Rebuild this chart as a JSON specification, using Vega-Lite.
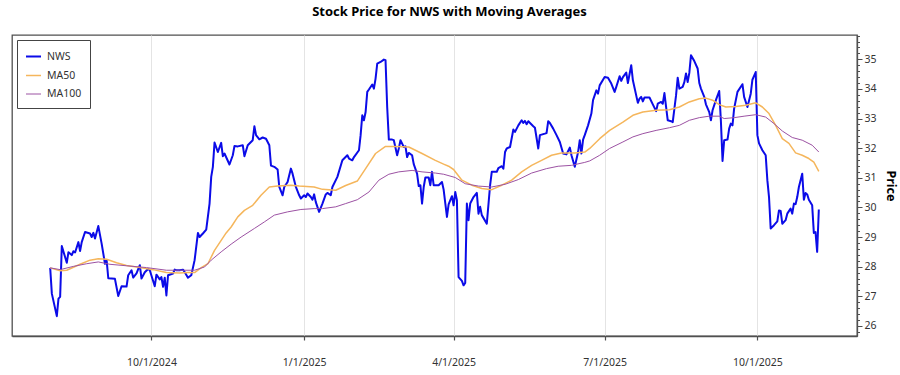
{
"$schema": "https://vega.github.io/schema/vega-lite/v6.json",
"width": 845, "height": 301,
"autosize": {"type": "none"},
"padding": {"left": 12, "top": 35, "right": 43, "bottom": 39},
"background": "white",
"title": {"text": "Stock Price for NWS with Moving Averages", "fontSize": 13, "font": "Noto Sans", "fontWeight": "bold", "color": "#000000", "anchor": "middle", "dx": 15, "offset": 12},
"config": {"view": {"stroke": "#505050", "strokeWidth": 1.3}, "font": "Noto Sans"},
"data": {"format": {"parse": {"d": "utc:'%Y-%m-%d'"}}, "values": [
{"d":"2024-08-01","s":"NWS","p":27.96},{"d":"2024-08-02","s":"NWS","p":27.09},{"d":"2024-08-05","s":"NWS","p":26.33},{"d":"2024-08-06","s":"NWS","p":26.92},{"d":"2024-08-07","s":"NWS","p":26.98},{"d":"2024-08-08","s":"NWS","p":28.70},{"d":"2024-08-11","s":"NWS","p":28.13},{"d":"2024-08-12","s":"NWS","p":28.49},{"d":"2024-08-14","s":"NWS","p":28.39},{"d":"2024-08-15","s":"NWS","p":28.52},{"d":"2024-08-16","s":"NWS","p":28.48},{"d":"2024-08-18","s":"NWS","p":28.83},{"d":"2024-08-19","s":"NWS","p":28.53},{"d":"2024-08-20","s":"NWS","p":28.83},{"d":"2024-08-22","s":"NWS","p":29.17},{"d":"2024-08-25","s":"NWS","p":29.12},{"d":"2024-08-26","s":"NWS","p":29.00},{"d":"2024-08-27","s":"NWS","p":29.14},{"d":"2024-08-28","s":"NWS","p":28.95},{"d":"2024-08-30","s":"NWS","p":29.37},{"d":"2024-09-01","s":"NWS","p":28.78},{"d":"2024-09-03","s":"NWS","p":28.10},{"d":"2024-09-04","s":"NWS","p":28.22},{"d":"2024-09-05","s":"NWS","p":27.61},{"d":"2024-09-07","s":"NWS","p":27.60},{"d":"2024-09-09","s":"NWS","p":27.59},{"d":"2024-09-11","s":"NWS","p":27.01},{"d":"2024-09-13","s":"NWS","p":27.34},{"d":"2024-09-16","s":"NWS","p":27.33},{"d":"2024-09-17","s":"NWS","p":27.71},{"d":"2024-09-19","s":"NWS","p":27.88},{"d":"2024-09-20","s":"NWS","p":27.63},{"d":"2024-09-22","s":"NWS","p":27.77},{"d":"2024-09-24","s":"NWS","p":28.05},{"d":"2024-09-25","s":"NWS","p":27.60},{"d":"2024-09-27","s":"NWS","p":27.81},{"d":"2024-09-29","s":"NWS","p":27.92},{"d":"2024-09-30","s":"NWS","p":27.88},{"d":"2024-10-03","s":"NWS","p":27.34},{"d":"2024-10-04","s":"NWS","p":27.73},{"d":"2024-10-06","s":"NWS","p":27.57},{"d":"2024-10-07","s":"NWS","p":27.65},{"d":"2024-10-08","s":"NWS","p":27.32},{"d":"2024-10-09","s":"NWS","p":27.63},{"d":"2024-10-10","s":"NWS","p":27.03},{"d":"2024-10-11","s":"NWS","p":27.71},{"d":"2024-10-14","s":"NWS","p":27.77},{"d":"2024-10-15","s":"NWS","p":27.90},{"d":"2024-10-16","s":"NWS","p":27.88},{"d":"2024-10-18","s":"NWS","p":27.88},{"d":"2024-10-20","s":"NWS","p":27.90},{"d":"2024-10-21","s":"NWS","p":27.82},{"d":"2024-10-23","s":"NWS","p":27.63},{"d":"2024-10-25","s":"NWS","p":27.71},{"d":"2024-10-27","s":"NWS","p":28.22},{"d":"2024-10-29","s":"NWS","p":29.14},{"d":"2024-10-30","s":"NWS","p":29.00},{"d":"2024-11-01","s":"NWS","p":29.12},{"d":"2024-11-03","s":"NWS","p":29.25},{"d":"2024-11-05","s":"NWS","p":30.13},{"d":"2024-11-06","s":"NWS","p":31.03},{"d":"2024-11-07","s":"NWS","p":31.37},{"d":"2024-11-08","s":"NWS","p":32.19},{"d":"2024-11-10","s":"NWS","p":31.87},{"d":"2024-11-12","s":"NWS","p":32.18},{"d":"2024-11-13","s":"NWS","p":31.73},{"d":"2024-11-14","s":"NWS","p":31.82},{"d":"2024-11-17","s":"NWS","p":31.45},{"d":"2024-11-19","s":"NWS","p":31.76},{"d":"2024-11-20","s":"NWS","p":32.07},{"d":"2024-11-22","s":"NWS","p":32.06},{"d":"2024-11-25","s":"NWS","p":32.10},{"d":"2024-11-26","s":"NWS","p":31.73},{"d":"2024-11-28","s":"NWS","p":32.10},{"d":"2024-12-01","s":"NWS","p":32.27},{"d":"2024-12-02","s":"NWS","p":32.74},{"d":"2024-12-03","s":"NWS","p":32.44},{"d":"2024-12-05","s":"NWS","p":32.30},{"d":"2024-12-07","s":"NWS","p":32.36},{"d":"2024-12-09","s":"NWS","p":32.32},{"d":"2024-12-11","s":"NWS","p":32.10},{"d":"2024-12-12","s":"NWS","p":31.41},{"d":"2024-12-14","s":"NWS","p":31.37},{"d":"2024-12-16","s":"NWS","p":31.28},{"d":"2024-12-17","s":"NWS","p":30.69},{"d":"2024-12-19","s":"NWS","p":30.41},{"d":"2024-12-20","s":"NWS","p":30.69},{"d":"2024-12-22","s":"NWS","p":30.86},{"d":"2024-12-24","s":"NWS","p":31.31},{"d":"2024-12-25","s":"NWS","p":31.14},{"d":"2024-12-27","s":"NWS","p":30.69},{"d":"2024-12-29","s":"NWS","p":30.41},{"d":"2024-12-30","s":"NWS","p":30.30},
{"d":"2025-01-01","s":"NWS","p":30.41},{"d":"2025-01-02","s":"NWS","p":30.35},{"d":"2025-01-03","s":"NWS","p":30.47},{"d":"2025-01-05","s":"NWS","p":30.35},{"d":"2025-01-06","s":"NWS","p":30.26},{"d":"2025-01-07","s":"NWS","p":30.44},{"d":"2025-01-08","s":"NWS","p":30.18},{"d":"2025-01-10","s":"NWS","p":29.85},{"d":"2025-01-12","s":"NWS","p":30.13},{"d":"2025-01-14","s":"NWS","p":30.44},{"d":"2025-01-15","s":"NWS","p":30.49},{"d":"2025-01-17","s":"NWS","p":30.41},{"d":"2025-01-18","s":"NWS","p":30.69},{"d":"2025-01-21","s":"NWS","p":31.03},{"d":"2025-01-24","s":"NWS","p":31.59},{"d":"2025-01-27","s":"NWS","p":31.76},{"d":"2025-01-28","s":"NWS","p":31.65},{"d":"2025-01-30","s":"NWS","p":31.59},{"d":"2025-01-31","s":"NWS","p":31.70},{"d":"2025-02-03","s":"NWS","p":31.93},{"d":"2025-02-04","s":"NWS","p":32.44},{"d":"2025-02-05","s":"NWS","p":33.11},{"d":"2025-02-06","s":"NWS","p":32.94},{"d":"2025-02-07","s":"NWS","p":33.22},{"d":"2025-02-08","s":"NWS","p":33.90},{"d":"2025-02-09","s":"NWS","p":33.98},{"d":"2025-02-11","s":"NWS","p":34.15},{"d":"2025-02-12","s":"NWS","p":34.01},{"d":"2025-02-13","s":"NWS","p":34.35},{"d":"2025-02-14","s":"NWS","p":34.85},{"d":"2025-02-16","s":"NWS","p":34.91},{"d":"2025-02-18","s":"NWS","p":34.99},{"d":"2025-02-19","s":"NWS","p":34.97},{"d":"2025-02-20","s":"NWS","p":33.39},{"d":"2025-02-21","s":"NWS","p":32.29},{"d":"2025-02-23","s":"NWS","p":32.29},{"d":"2025-02-24","s":"NWS","p":32.27},{"d":"2025-02-26","s":"NWS","p":31.76},{"d":"2025-02-27","s":"NWS","p":31.99},{"d":"2025-02-28","s":"NWS","p":32.27},{"d":"2025-03-02","s":"NWS","p":32.04},{"d":"2025-03-03","s":"NWS","p":32.06},{"d":"2025-03-04","s":"NWS","p":31.70},{"d":"2025-03-05","s":"NWS","p":31.84},{"d":"2025-03-07","s":"NWS","p":31.76},{"d":"2025-03-08","s":"NWS","p":31.46},{"d":"2025-03-10","s":"NWS","p":31.14},{"d":"2025-03-11","s":"NWS","p":30.72},{"d":"2025-03-12","s":"NWS","p":30.75},{"d":"2025-03-13","s":"NWS","p":30.13},{"d":"2025-03-14","s":"NWS","p":30.69},{"d":"2025-03-15","s":"NWS","p":31.01},{"d":"2025-03-17","s":"NWS","p":31.01},{"d":"2025-03-18","s":"NWS","p":30.75},{"d":"2025-03-19","s":"NWS","p":31.20},{"d":"2025-03-20","s":"NWS","p":30.75},{"d":"2025-03-23","s":"NWS","p":30.75},{"d":"2025-03-25","s":"NWS","p":30.86},{"d":"2025-03-26","s":"NWS","p":30.60},{"d":"2025-03-28","s":"NWS","p":29.68},{"d":"2025-03-29","s":"NWS","p":30.10},{"d":"2025-03-31","s":"NWS","p":30.38},{"d":"2025-04-01","s":"NWS","p":30.07},{"d":"2025-04-02","s":"NWS","p":30.52},{"d":"2025-04-03","s":"NWS","p":30.24},{"d":"2025-04-04","s":"NWS","p":27.65},{"d":"2025-04-06","s":"NWS","p":27.52},{"d":"2025-04-07","s":"NWS","p":27.37},{"d":"2025-04-08","s":"NWS","p":27.45},{"d":"2025-04-09","s":"NWS","p":30.13},{"d":"2025-04-10","s":"NWS","p":29.57},{"d":"2025-04-11","s":"NWS","p":30.13},{"d":"2025-04-13","s":"NWS","p":30.35},{"d":"2025-04-15","s":"NWS","p":30.49},{"d":"2025-04-16","s":"NWS","p":29.79},{"d":"2025-04-17","s":"NWS","p":30.02},{"d":"2025-04-18","s":"NWS","p":29.74},{"d":"2025-04-21","s":"NWS","p":29.45},{"d":"2025-04-23","s":"NWS","p":30.75},{"d":"2025-04-24","s":"NWS","p":31.20},{"d":"2025-04-27","s":"NWS","p":31.20},{"d":"2025-04-28","s":"NWS","p":31.33},{"d":"2025-04-30","s":"NWS","p":31.39},{"d":"2025-05-01","s":"NWS","p":31.31},{"d":"2025-05-02","s":"NWS","p":31.87},{"d":"2025-05-03","s":"NWS","p":31.99},{"d":"2025-05-05","s":"NWS","p":32.04},{"d":"2025-05-07","s":"NWS","p":32.63},{"d":"2025-05-08","s":"NWS","p":32.55},{"d":"2025-05-10","s":"NWS","p":32.77},{"d":"2025-05-12","s":"NWS","p":32.94},{"d":"2025-05-13","s":"NWS","p":32.85},{"d":"2025-05-14","s":"NWS","p":32.92},{"d":"2025-05-15","s":"NWS","p":32.81},{"d":"2025-05-16","s":"NWS","p":32.91},{"d":"2025-05-19","s":"NWS","p":32.74},{"d":"2025-05-20","s":"NWS","p":32.69},{"d":"2025-05-22","s":"NWS","p":31.99},{"d":"2025-05-23","s":"NWS","p":32.44},{"d":"2025-05-26","s":"NWS","p":32.49},{"d":"2025-05-27","s":"NWS","p":32.51},{"d":"2025-05-28","s":"NWS","p":32.91},{"d":"2025-05-29","s":"NWS","p":32.85},{"d":"2025-05-31","s":"NWS","p":32.66},{"d":"2025-06-02","s":"NWS","p":32.44},{"d":"2025-06-04","s":"NWS","p":32.21},{"d":"2025-06-06","s":"NWS","p":31.82},{"d":"2025-06-08","s":"NWS","p":31.79},{"d":"2025-06-10","s":"NWS","p":32.02},{"d":"2025-06-11","s":"NWS","p":31.76},{"d":"2025-06-13","s":"NWS","p":31.37},{"d":"2025-06-15","s":"NWS","p":31.87},{"d":"2025-06-16","s":"NWS","p":32.27},{"d":"2025-06-17","s":"NWS","p":31.82},{"d":"2025-06-18","s":"NWS","p":32.29},{"d":"2025-06-19","s":"NWS","p":32.44},{"d":"2025-06-21","s":"NWS","p":32.77},{"d":"2025-06-23","s":"NWS","p":33.17},{"d":"2025-06-24","s":"NWS","p":33.62},{"d":"2025-06-26","s":"NWS","p":33.95},{"d":"2025-06-27","s":"NWS","p":33.84},{"d":"2025-06-28","s":"NWS","p":34.12},{"d":"2025-07-01","s":"NWS","p":34.40},{"d":"2025-07-03","s":"NWS","p":34.38},{"d":"2025-07-05","s":"NWS","p":34.18},{"d":"2025-07-07","s":"NWS","p":33.90},{"d":"2025-07-08","s":"NWS","p":34.07},{"d":"2025-07-10","s":"NWS","p":34.43},{"d":"2025-07-11","s":"NWS","p":34.27},{"d":"2025-07-12","s":"NWS","p":34.40},{"d":"2025-07-14","s":"NWS","p":34.55},{"d":"2025-07-15","s":"NWS","p":34.20},{"d":"2025-07-17","s":"NWS","p":34.80},{"d":"2025-07-18","s":"NWS","p":34.29},{"d":"2025-07-21","s":"NWS","p":33.53},{"d":"2025-07-22","s":"NWS","p":33.67},{"d":"2025-07-23","s":"NWS","p":33.73},{"d":"2025-07-24","s":"NWS","p":33.58},{"d":"2025-07-25","s":"NWS","p":33.71},{"d":"2025-07-28","s":"NWS","p":33.71},{"d":"2025-07-30","s":"NWS","p":33.48},{"d":"2025-08-01","s":"NWS","p":33.25},{"d":"2025-08-02","s":"NWS","p":33.50},{"d":"2025-08-04","s":"NWS","p":33.56},{"d":"2025-08-05","s":"NWS","p":33.50},{"d":"2025-08-06","s":"NWS","p":33.86},{"d":"2025-08-07","s":"NWS","p":33.39},{"d":"2025-08-08","s":"NWS","p":32.94},{"d":"2025-08-10","s":"NWS","p":32.91},{"d":"2025-08-11","s":"NWS","p":32.88},{"d":"2025-08-13","s":"NWS","p":33.78},{"d":"2025-08-14","s":"NWS","p":34.38},{"d":"2025-08-15","s":"NWS","p":34.01},{"d":"2025-08-17","s":"NWS","p":34.07},{"d":"2025-08-18","s":"NWS","p":34.23},{"d":"2025-08-19","s":"NWS","p":34.52},{"d":"2025-08-20","s":"NWS","p":34.23},{"d":"2025-08-21","s":"NWS","p":34.54},{"d":"2025-08-22","s":"NWS","p":35.14},{"d":"2025-08-24","s":"NWS","p":34.94},{"d":"2025-08-26","s":"NWS","p":34.69},{"d":"2025-08-27","s":"NWS","p":34.20},{"d":"2025-08-28","s":"NWS","p":34.01},{"d":"2025-08-30","s":"NWS","p":33.73},{"d":"2025-08-31","s":"NWS","p":33.48},{"d":"2025-09-02","s":"NWS","p":33.22},{"d":"2025-09-03","s":"NWS","p":32.94},{"d":"2025-09-04","s":"NWS","p":33.28},{"d":"2025-09-06","s":"NWS","p":33.62},{"d":"2025-09-08","s":"NWS","p":33.93},{"d":"2025-09-09","s":"NWS","p":32.94},{"d":"2025-09-10","s":"NWS","p":31.57},{"d":"2025-09-11","s":"NWS","p":32.27},{"d":"2025-09-13","s":"NWS","p":32.29},{"d":"2025-09-14","s":"NWS","p":32.66},{"d":"2025-09-15","s":"NWS","p":32.83},{"d":"2025-09-16","s":"NWS","p":32.77},{"d":"2025-09-17","s":"NWS","p":33.34},{"d":"2025-09-19","s":"NWS","p":33.90},{"d":"2025-09-22","s":"NWS","p":34.16},{"d":"2025-09-23","s":"NWS","p":33.73},{"d":"2025-09-25","s":"NWS","p":33.39},{"d":"2025-09-27","s":"NWS","p":33.84},{"d":"2025-09-28","s":"NWS","p":34.31},{"d":"2025-09-30","s":"NWS","p":34.57},{"d":"2025-10-01","s":"NWS","p":32.44},{"d":"2025-10-02","s":"NWS","p":32.16},{"d":"2025-10-04","s":"NWS","p":31.93},{"d":"2025-10-06","s":"NWS","p":31.76},{"d":"2025-10-07","s":"NWS","p":30.92},{"d":"2025-10-08","s":"NWS","p":30.35},{"d":"2025-10-09","s":"NWS","p":29.29},{"d":"2025-10-11","s":"NWS","p":29.40},{"d":"2025-10-13","s":"NWS","p":29.53},{"d":"2025-10-14","s":"NWS","p":29.90},{"d":"2025-10-15","s":"NWS","p":29.88},{"d":"2025-10-16","s":"NWS","p":29.45},{"d":"2025-10-18","s":"NWS","p":29.57},{"d":"2025-10-19","s":"NWS","p":29.79},{"d":"2025-10-21","s":"NWS","p":29.96},{"d":"2025-10-22","s":"NWS","p":29.79},{"d":"2025-10-23","s":"NWS","p":30.13},{"d":"2025-10-24","s":"NWS","p":30.11},{"d":"2025-10-25","s":"NWS","p":30.35},{"d":"2025-10-26","s":"NWS","p":30.69},{"d":"2025-10-28","s":"NWS","p":31.14},{"d":"2025-10-29","s":"NWS","p":30.26},{"d":"2025-10-30","s":"NWS","p":30.49},{"d":"2025-10-31","s":"NWS","p":30.44},{"d":"2025-11-01","s":"NWS","p":30.26},{"d":"2025-11-03","s":"NWS","p":30.07},{"d":"2025-11-04","s":"NWS","p":29.14},{"d":"2025-11-05","s":"NWS","p":29.17},{"d":"2025-11-06","s":"NWS","p":28.50},{"d":"2025-11-07","s":"NWS","p":29.93},
{"d":"2024-08-01","s":"MA50","p":27.96},{"d":"2024-08-07","s":"MA50","p":27.86},{"d":"2024-08-11","s":"MA50","p":27.88},{"d":"2024-08-19","s":"MA50","p":28.08},{"d":"2024-08-25","s":"MA50","p":28.22},{"d":"2024-08-30","s":"MA50","p":28.27},{"d":"2024-09-04","s":"MA50","p":28.25},{"d":"2024-09-10","s":"MA50","p":28.13},{"d":"2024-09-16","s":"MA50","p":28.04},{"d":"2024-09-24","s":"MA50","p":27.97},{"d":"2024-10-02","s":"MA50","p":27.90},{"d":"2024-10-10","s":"MA50","p":27.80},{"d":"2024-10-18","s":"MA50","p":27.79},{"d":"2024-10-23","s":"MA50","p":27.80},{"d":"2024-10-27","s":"MA50","p":27.80},{"d":"2024-10-31","s":"MA50","p":27.97},{"d":"2024-11-04","s":"MA50","p":28.10},{"d":"2024-11-08","s":"MA50","p":28.55},{"d":"2024-11-12","s":"MA50","p":28.89},{"d":"2024-11-15","s":"MA50","p":29.14},{"d":"2024-11-18","s":"MA50","p":29.34},{"d":"2024-11-22","s":"MA50","p":29.68},{"d":"2024-11-26","s":"MA50","p":29.90},{"d":"2024-12-01","s":"MA50","p":30.07},{"d":"2024-12-06","s":"MA50","p":30.41},{"d":"2024-12-11","s":"MA50","p":30.69},{"d":"2024-12-16","s":"MA50","p":30.72},{"d":"2024-12-24","s":"MA50","p":30.75},{"d":"2024-12-29","s":"MA50","p":30.72},{"d":"2025-01-07","s":"MA50","p":30.69},{"d":"2025-01-12","s":"MA50","p":30.61},{"d":"2025-01-20","s":"MA50","p":30.58},{"d":"2025-01-26","s":"MA50","p":30.74},{"d":"2025-02-02","s":"MA50","p":30.89},{"d":"2025-02-07","s":"MA50","p":31.31},{"d":"2025-02-13","s":"MA50","p":31.82},{"d":"2025-02-19","s":"MA50","p":32.06},{"d":"2025-02-25","s":"MA50","p":32.06},{"d":"2025-03-05","s":"MA50","p":32.04},{"d":"2025-03-13","s":"MA50","p":31.82},{"d":"2025-03-21","s":"MA50","p":31.59},{"d":"2025-03-26","s":"MA50","p":31.46},{"d":"2025-03-29","s":"MA50","p":31.39},{"d":"2025-04-01","s":"MA50","p":31.28},{"d":"2025-04-06","s":"MA50","p":30.92},{"d":"2025-04-12","s":"MA50","p":30.75},{"d":"2025-04-18","s":"MA50","p":30.64},{"d":"2025-04-24","s":"MA50","p":30.60},{"d":"2025-04-30","s":"MA50","p":30.75},{"d":"2025-05-06","s":"MA50","p":30.92},{"d":"2025-05-12","s":"MA50","p":31.20},{"d":"2025-05-18","s":"MA50","p":31.42},{"d":"2025-05-24","s":"MA50","p":31.59},{"d":"2025-05-30","s":"MA50","p":31.76},{"d":"2025-06-05","s":"MA50","p":31.84},{"d":"2025-06-13","s":"MA50","p":31.84},{"d":"2025-06-19","s":"MA50","p":31.87},{"d":"2025-06-22","s":"MA50","p":31.99},{"d":"2025-06-28","s":"MA50","p":32.32},{"d":"2025-07-04","s":"MA50","p":32.60},{"d":"2025-07-12","s":"MA50","p":32.88},{"d":"2025-07-18","s":"MA50","p":33.11},{"d":"2025-07-24","s":"MA50","p":33.22},{"d":"2025-08-01","s":"MA50","p":33.28},{"d":"2025-08-09","s":"MA50","p":33.30},{"d":"2025-08-15","s":"MA50","p":33.39},{"d":"2025-08-21","s":"MA50","p":33.56},{"d":"2025-08-27","s":"MA50","p":33.67},{"d":"2025-08-31","s":"MA50","p":33.69},{"d":"2025-09-04","s":"MA50","p":33.62},{"d":"2025-09-08","s":"MA50","p":33.47},{"d":"2025-09-12","s":"MA50","p":33.39},{"d":"2025-09-18","s":"MA50","p":33.41},{"d":"2025-09-24","s":"MA50","p":33.45},{"d":"2025-09-30","s":"MA50","p":33.53},{"d":"2025-10-04","s":"MA50","p":33.39},{"d":"2025-10-08","s":"MA50","p":33.17},{"d":"2025-10-12","s":"MA50","p":32.77},{"d":"2025-10-16","s":"MA50","p":32.32},{"d":"2025-10-20","s":"MA50","p":32.16},{"d":"2025-10-24","s":"MA50","p":31.84},{"d":"2025-10-28","s":"MA50","p":31.76},{"d":"2025-11-01","s":"MA50","p":31.65},{"d":"2025-11-04","s":"MA50","p":31.53},{"d":"2025-11-07","s":"MA50","p":31.22},
{"d":"2024-08-01","s":"MA100","p":27.96},{"d":"2024-08-07","s":"MA100","p":27.90},{"d":"2024-08-15","s":"MA100","p":28.01},{"d":"2024-08-23","s":"MA100","p":28.10},{"d":"2024-08-30","s":"MA100","p":28.16},{"d":"2024-09-06","s":"MA100","p":28.08},{"d":"2024-09-16","s":"MA100","p":28.03},{"d":"2024-09-28","s":"MA100","p":27.97},{"d":"2024-10-10","s":"MA100","p":27.88},{"d":"2024-10-18","s":"MA100","p":27.88},{"d":"2024-10-27","s":"MA100","p":27.88},{"d":"2024-11-02","s":"MA100","p":27.99},{"d":"2024-11-06","s":"MA100","p":28.22},{"d":"2024-11-12","s":"MA100","p":28.50},{"d":"2024-11-18","s":"MA100","p":28.76},{"d":"2024-11-24","s":"MA100","p":29.00},{"d":"2024-12-02","s":"MA100","p":29.29},{"d":"2024-12-08","s":"MA100","p":29.51},{"d":"2024-12-14","s":"MA100","p":29.74},{"d":"2024-12-22","s":"MA100","p":29.85},{"d":"2024-12-30","s":"MA100","p":29.93},{"d":"2025-01-07","s":"MA100","p":29.96},{"d":"2025-01-12","s":"MA100","p":29.96},{"d":"2025-01-20","s":"MA100","p":30.02},{"d":"2025-01-26","s":"MA100","p":30.13},{"d":"2025-02-02","s":"MA100","p":30.26},{"d":"2025-02-09","s":"MA100","p":30.52},{"d":"2025-02-15","s":"MA100","p":30.92},{"d":"2025-02-21","s":"MA100","p":31.12},{"d":"2025-02-27","s":"MA100","p":31.20},{"d":"2025-03-07","s":"MA100","p":31.25},{"d":"2025-03-13","s":"MA100","p":31.20},{"d":"2025-03-21","s":"MA100","p":31.16},{"d":"2025-03-26","s":"MA100","p":31.12},{"d":"2025-04-02","s":"MA100","p":31.01},{"d":"2025-04-08","s":"MA100","p":30.80},{"d":"2025-04-16","s":"MA100","p":30.72},{"d":"2025-04-24","s":"MA100","p":30.69},{"d":"2025-05-02","s":"MA100","p":30.78},{"d":"2025-05-10","s":"MA100","p":30.94},{"d":"2025-05-18","s":"MA100","p":31.16},{"d":"2025-05-27","s":"MA100","p":31.31},{"d":"2025-06-03","s":"MA100","p":31.39},{"d":"2025-06-11","s":"MA100","p":31.42},{"d":"2025-06-19","s":"MA100","p":31.52},{"d":"2025-06-22","s":"MA100","p":31.57},{"d":"2025-06-28","s":"MA100","p":31.76},{"d":"2025-07-04","s":"MA100","p":31.99},{"d":"2025-07-12","s":"MA100","p":32.21},{"d":"2025-07-18","s":"MA100","p":32.38},{"d":"2025-07-24","s":"MA100","p":32.49},{"d":"2025-08-01","s":"MA100","p":32.60},{"d":"2025-08-09","s":"MA100","p":32.69},{"d":"2025-08-15","s":"MA100","p":32.77},{"d":"2025-08-21","s":"MA100","p":32.94},{"d":"2025-08-27","s":"MA100","p":33.03},{"d":"2025-09-02","s":"MA100","p":33.08},{"d":"2025-09-08","s":"MA100","p":33.08},{"d":"2025-09-11","s":"MA100","p":33.00},{"d":"2025-09-17","s":"MA100","p":33.03},{"d":"2025-09-23","s":"MA100","p":33.08},{"d":"2025-09-30","s":"MA100","p":33.13},{"d":"2025-10-06","s":"MA100","p":33.05},{"d":"2025-10-11","s":"MA100","p":32.83},{"d":"2025-10-16","s":"MA100","p":32.58},{"d":"2025-10-22","s":"MA100","p":32.36},{"d":"2025-10-28","s":"MA100","p":32.27},{"d":"2025-11-03","s":"MA100","p":32.10},{"d":"2025-11-07","s":"MA100","p":31.87}
]},
"mark": {"type": "line", "interpolate": "linear", "strokeJoin": "round"},
"encoding": {
 "x": {"field": "d", "type": "temporal",
  "scale": {"type": "utc", "domain": [{"year": 2024, "month": 7, "date": 9, "utc": true}, {"year": 2025, "month": 11, "date": 30, "utc": true}]},
  "axis": {"title": null,
   "values": [{"year": 2024, "month": 10, "date": 1, "utc": true}, {"year": 2025, "month": 1, "date": 1, "utc": true}, {"year": 2025, "month": 4, "date": 1, "utc": true}, {"year": 2025, "month": 7, "date": 1, "utc": true}, {"year": 2025, "month": 10, "date": 1, "utc": true}],
   "labelExpr": "(utcmonth(datum.value)+1) + '/' + utcdate(datum.value) + '/' + utcyear(datum.value)",
   "grid": true, "gridColor": "#e4e4e4", "gridWidth": 1,
   "domainColor": "#505050", "domainWidth": 1.3, "tickColor": "#505050", "tickSize": 4, "tickWidth": 1.2,
   "labelPadding": 17, "labelFontSize": 10.5, "labelColor": "#333333", "labelFont": "Noto Sans"}},
 "y": {"field": "p", "type": "quantitative",
  "scale": {"domain": [25.66, 35.82], "nice": false, "zero": false},
  "axis": {"orient": "right", "title": "Price", "titleFontWeight": "bold", "titleFontSize": 12.5, "titleColor": "#000000", "titleFont": "Noto Sans", "titlePadding": 7,
   "values": [25.8,26,26.2,26.4,26.6,26.8,27,27.2,27.4,27.6,27.8,28,28.2,28.4,28.6,28.8,29,29.2,29.4,29.6,29.8,30,30.2,30.4,30.6,30.8,31,31.2,31.4,31.6,31.8,32,32.2,32.4,32.6,32.8,33,33.2,33.4,33.6,33.8,34,34.2,34.4,34.6,34.8,35,35.2,35.4,35.6,35.8],
   "labelExpr": "datum.value % 1 === 0 ? format(datum.value, 'd') : ''",
   "labelOverlap": false, "labelFlush": false,
   "tickSize": {"condition": {"test": "datum.value % 1 === 0", "value": 5}, "value": 2.5},
   "grid": false, "domainColor": "#505050", "domainWidth": 1.3, "tickColor": "#505050", "tickWidth": 1,
   "labelPadding": 2, "labelFontSize": 10.5, "labelColor": "#333333", "labelFont": "Noto Sans"}},
 "color": {"field": "s", "type": "nominal",
  "scale": {"domain": ["NWS", "MA50", "MA100"], "range": ["#0b0be8", "#f5b65c", "#9c52a3"]},
  "legend": {"title": null, "orient": "none", "legendX": 5, "legendY": 5, "direction": "vertical", "fillColor": "white", "strokeColor": "#444444", "padding": 8, "cornerRadius": 0, "symbolType": "stroke", "symbolSize": 225, "symbolStrokeWidth": 1.5, "labelFontSize": 10.5, "labelColor": "#333333", "labelFont": "Noto Sans", "rowPadding": 5, "labelOffset": 5}},
 "strokeWidth": {"field": "s", "type": "nominal", "scale": {"domain": ["NWS", "MA50", "MA100"], "range": [2, 1, 1]}, "legend": null}
}
}
